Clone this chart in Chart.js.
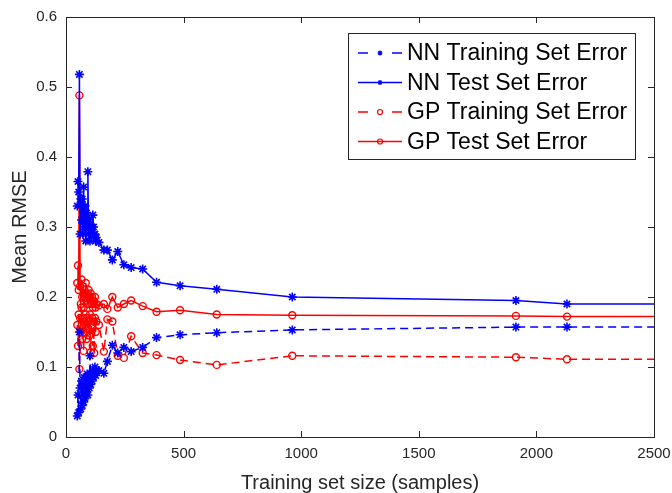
<!DOCTYPE html>
<html>
<head>
<meta charset="utf-8">
<script src="https://cdn.jsdelivr.net/npm/chart.js@4.4.1/dist/chart.umd.min.js"></script>
<style>
  body { margin: 0; background: #fff; }
  canvas { display: block; }
</style>
</head>
<body>
<canvas id="myChart" width="672" height="493"></canvas>
<script>
// training set sizes (shared by all four curves)
const sizes = [48, 51, 54, 57, 60, 63, 66, 69, 72, 75, 78, 81, 84, 87, 90, 93, 96, 99, 102, 105,
               108, 111, 114, 117, 120, 123, 126, 129,
               140, 161, 176, 197, 220, 246, 277, 326, 385, 485, 641, 962, 1913, 2130, 2560];

const nnTrain = [0.030, 0.060, 0.035, 0.150, 0.070, 0.040, 0.080, 0.045, 0.075, 0.050,
                 0.085, 0.055, 0.080, 0.065, 0.090, 0.060, 0.085, 0.070, 0.116, 0.075,
                 0.090, 0.080, 0.095, 0.085, 0.090, 0.100, 0.088, 0.095,
                 0.095, 0.091, 0.108, 0.131, 0.120, 0.128, 0.122, 0.128, 0.142, 0.146, 0.149, 0.153, 0.157, 0.157, 0.157];

const nnTest = [0.330, 0.365, 0.350, 0.518, 0.290, 0.340, 0.310, 0.340, 0.290, 0.357,
                0.300, 0.330, 0.280, 0.320, 0.300, 0.379, 0.290, 0.310, 0.280, 0.300,
                0.290, 0.300, 0.317, 0.300, 0.289, 0.290, 0.280, 0.285,
                0.278, 0.267, 0.267, 0.253, 0.265, 0.246, 0.242, 0.240, 0.221, 0.216, 0.211, 0.200, 0.195, 0.190, 0.190];

const gpTrain = [0.160, 0.130, 0.175, 0.097, 0.170, 0.150, 0.185, 0.140, 0.170, 0.123,
                 0.165, 0.150, 0.175, 0.140, 0.170, 0.155, 0.165, 0.145, 0.175, 0.121,
                 0.160, 0.170, 0.130, 0.165, 0.120, 0.170, 0.150, 0.165,
                 0.160, 0.122, 0.168, 0.165, 0.116, 0.113, 0.144, 0.120, 0.117, 0.110, 0.103, 0.116, 0.114, 0.111, 0.111];

const gpTest = [0.220, 0.245, 0.210, 0.488, 0.215, 0.190, 0.225, 0.200, 0.215, 0.185,
                0.210, 0.200, 0.220, 0.195, 0.205, 0.190, 0.210, 0.200, 0.195, 0.205,
                0.190, 0.200, 0.185, 0.195, 0.190, 0.200, 0.185, 0.190,
                0.188, 0.190, 0.183, 0.200, 0.185, 0.190, 0.195, 0.187, 0.179, 0.181, 0.175, 0.174, 0.173, 0.172, 0.172];

const xTicks = [0, 500, 1000, 1500, 2000, 2500];
const yTicks = [0, 0.1, 0.2, 0.3, 0.4, 0.5, 0.6];

const BLUE = "#0000ff";
const RED = "#ff0000";
const AXIS = "#262626";
const FONT = "'Liberation Sans', Arial, sans-serif";

function pts(ys) {
  return sizes.map((s, i) => ({ x: s, y: ys[i] }));
}

const data = {
  datasets: [
    {
      label: "NN Training Set Error",
      data: pts(nnTrain),
      borderColor: BLUE,
      backgroundColor: BLUE,
      borderWidth: 1.5,
      borderDash: [8, 5],
      pointStyle: "star",
      pointRadius: 4.5,
      pointBorderWidth: 1.6,
    },
    {
      label: "NN Test Set Error",
      data: pts(nnTest),
      borderColor: BLUE,
      backgroundColor: BLUE,
      borderWidth: 1.5,
      pointStyle: "star",
      pointRadius: 4.5,
      pointBorderWidth: 1.6,
    },
    {
      label: "GP Training Set Error",
      data: pts(gpTrain),
      borderColor: RED,
      backgroundColor: "rgba(0,0,0,0)",
      borderWidth: 1.5,
      borderDash: [8, 5],
      pointStyle: "circle",
      pointRadius: 3.5,
      pointBorderWidth: 1.4,
    },
    {
      label: "GP Test Set Error",
      data: pts(gpTest),
      borderColor: RED,
      backgroundColor: "rgba(0,0,0,0)",
      borderWidth: 1.5,
      pointStyle: "circle",
      pointRadius: 3.5,
      pointBorderWidth: 1.4,
    },
  ],
};

// MATLAB-like box with inward ticks, plus the boxed legend
const boxAndLegend = {
  id: "boxAndLegend",
  afterDraw(chart) {
    const { ctx, chartArea: { top, bottom, left, right }, scales } = chart;
    const xs = scales.x, ys = scales.y;
    ctx.save();
    ctx.strokeStyle = AXIS;
    ctx.lineWidth = 1;
    ctx.setLineDash([]);
    ctx.strokeRect(left + 0.5, top + 0.5, right - left, bottom - top);
    ctx.beginPath();
    xTicks.forEach((v) => {
      const px = Math.round(xs.getPixelForValue(v)) + 0.5;
      ctx.moveTo(px, bottom); ctx.lineTo(px, bottom - 6);
      ctx.moveTo(px, top); ctx.lineTo(px, top + 6);
    });
    yTicks.forEach((v) => {
      const py = Math.round(ys.getPixelForValue(v)) + 0.5;
      ctx.moveTo(left, py); ctx.lineTo(left + 6, py);
      ctx.moveTo(right, py); ctx.lineTo(right - 6, py);
    });
    ctx.stroke();

    // legend
    const bx = 348, by = 33, bw = 287, bh = 126;
    ctx.fillStyle = "#fff";
    ctx.fillRect(bx, by, bw, bh);
    ctx.strokeRect(bx + 0.5, by + 0.5, bw, bh);
    chart.data.datasets.forEach((ds, i) => {
      const cy = 53 + i * 29.5;
      ctx.strokeStyle = ds.borderColor;
      ctx.lineWidth = 1.5;
      ctx.setLineDash([]);
      ctx.beginPath();
      if (ds.borderDash) {
        ctx.moveTo(358, cy); ctx.lineTo(368, cy);
        ctx.moveTo(392, cy); ctx.lineTo(402, cy);
      } else {
        ctx.moveTo(358, cy); ctx.lineTo(402, cy);
      }
      ctx.stroke();
      ctx.lineWidth = 1.2;
      ctx.fillStyle = ds.backgroundColor;
      Chart.helpers.drawPoint(ctx, { pointStyle: ds.pointStyle, radius: 2.5, rotation: 0, borderWidth: 1.2 }, 380, cy);
      ctx.fillStyle = "#000";
      ctx.font = "23px " + FONT;
      ctx.textBaseline = "middle";
      ctx.textAlign = "left";
      ctx.fillText(ds.label, 407, cy + 1);
    });
    ctx.restore();
  },
};

const config = {
  type: "line",
  data,
  options: {
    responsive: false,
    animation: false,
    devicePixelRatio: 1,
    layout: { padding: { left: 0, top: 17, right: 18, bottom: 0 } },
    plugins: {
      legend: { display: false },
      tooltip: { enabled: false },
    },
    scales: {
      x: {
        type: "linear",
        min: 0,
        max: 2500,
        afterFit(scale) {
          scale.height = 56;
          scale.paddingLeft = 0;
          scale.paddingRight = 0;
        },
        afterBuildTicks(scale) { scale.ticks = xTicks.map((v) => ({ value: v })); },
        grid: { display: false, drawTicks: false },
        border: { display: false },
        ticks: {
          color: AXIS,
          padding: 8,
          maxRotation: 0,
          font: { family: FONT, size: 15 },
          callback: (v) => String(v),
        },
        title: {
          display: true,
          text: "Training set size (samples)",
          color: AXIS,
          padding: 0,
          font: { family: FONT, size: 20, lineHeight: 1 },
        },
      },
      y: {
        min: 0,
        max: 0.6,
        afterFit(scale) {
          scale.width = 66;
          scale.paddingTop = 0;
          scale.paddingBottom = 0;
        },
        afterBuildTicks(scale) { scale.ticks = yTicks.map((v) => ({ value: v })); },
        grid: { display: false, drawTicks: false },
        border: { display: false },
        ticks: {
          color: AXIS,
          padding: 9,
          font: { family: FONT, size: 15 },
          callback: (v) => String(Math.round(v * 10) / 10),
        },
        title: {
          display: true,
          text: "Mean RMSE",
          color: AXIS,
          padding: { top: 8, bottom: 0 },
          font: { family: FONT, size: 20, lineHeight: 1.2 },
        },
      },
    },
  },
  plugins: [boxAndLegend],
};

const myChart = new Chart(document.getElementById("myChart"), config);
</script>
</body>
</html>
